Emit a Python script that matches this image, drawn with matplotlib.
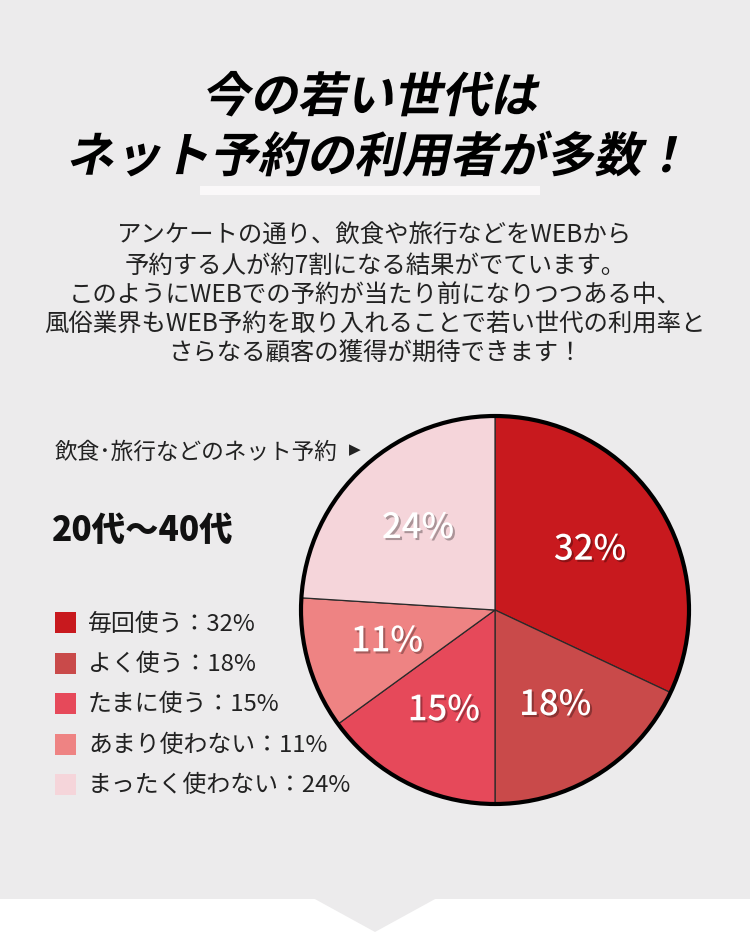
import matplotlib
matplotlib.use("Agg")
import matplotlib.pyplot as plt
from matplotlib.patches import Rectangle, Polygon, Circle, PathPatch
from matplotlib.textpath import TextPath
from matplotlib.font_manager import FontProperties
from matplotlib.transforms import Affine2D
import matplotlib.patheffects as pe

plt.rcParams['font.family'] = ['Noto Sans CJK JP', 'DejaVu Sans']

title_lines = ["今の若い世代は", "ネット予約の利用者が多数！"]
body_lines = [
    "アンケートの通り、飲食や旅行などをWEBから",
    "予約する人が約7割になる結果がでています。",
    "このようにWEBでの予約が当たり前になりつつある中、",
    "風俗業界もWEB予約を取り入れることで若い世代の利用率と",
    "さらなる顧客の獲得が期待できます！",
]
categories = ["毎回使う", "よく使う", "たまに使う", "あまり使わない", "まったく使わない"]
values = [32, 18, 15, 11, 24]
colors = ["#c8191e", "#c94a4a", "#e6495a", "#ee8383", "#f5d5da"]
subtitle = "飲食･旅行などのネット予約"
age_label = "20代〜40代"

bg = "#ecebec"
W, H = 750, 937

fig = plt.figure(figsize=(W / 100, H / 100), dpi=100, facecolor="white")
ax = fig.add_axes([0, 0, 1, 1])
ax.set_xlim(0, W)
ax.set_ylim(H, 0)
ax.axis("off")

# gray panel with arrow notch at bottom
ax.add_patch(Rectangle((0, 0), W, 900, color=bg, lw=0))
ax.add_patch(Polygon([(313, 899), (437, 899), (375, 933)], closed=True, color=bg, lw=0))

# title: bold, slanted via skewed text paths
tfont = FontProperties(family="Noto Sans CJK JP", weight="bold")
for line, y in zip(title_lines, [113, 173]):
    tp = TextPath((0, 0), line, size=48, prop=tfont)
    ext = tp.get_extents()
    tr = (Affine2D().skew_deg(12, 0).scale(1, -1)
          .translate(W / 2 - (ext.x0 + ext.x1) / 2 - 6, y) + ax.transData)
    ax.add_patch(PathPatch(tp, transform=tr, color="black", lw=0))

ax.add_patch(Rectangle((200, 187), 340, 9, color="#faf8f9", lw=0))

for i, line in enumerate(body_lines):
    ax.text(W / 2, 236 + i * 29.5, line, ha="center", va="center",
            fontsize=17.6, color="#222222")

ax.text(55, 452, subtitle, ha="left", va="center", fontsize=16.3, color="#222222")
ax.text(349, 450, "▶", ha="left", va="center", fontsize=11, color="#222222",
        family="DejaVu Sans")
ax.text(52, 530, age_label, ha="left", va="center", fontsize=24,
        fontweight="heavy", color="#111111")

for i, (c, v, col) in enumerate(zip(categories, values, colors)):
    y = 624 + i * 40.5
    ax.add_patch(Rectangle((55, y - 11), 21, 21, color=col, lw=0))
    ax.text(88, y, f"{c}：{v}%", ha="left", va="center", fontsize=17.2,
            color="#222222")

# pie
cx, cy, R = 495, 611, 194
pax = fig.add_axes([(cx - 200) / W, 1 - (cy + 200) / H, 400 / W, 400 / H])
wedges, texts, autotexts = pax.pie(
    values, colors=colors, startangle=90, counterclock=False, radius=R,
    autopct="%d%%", pctdistance=0.58,
    wedgeprops=dict(edgecolor="#2a2a2a", linewidth=0.9),
    textprops=dict(color="white", fontsize=25, fontweight="medium"))
for t in autotexts:
    t.set_path_effects([pe.withSimplePatchShadow(offset=(1.5, -1.5),
                                                 shadow_rgbFace="black", alpha=0.3)])
pax.add_patch(Circle((0, 0), R, fill=False, edgecolor="black", lw=3))
pax.set_xlim(-200, 200)
pax.set_ylim(-200, 200)
pax.set_aspect("equal")
pax.axis("off")

fig.savefig("out.png", dpi=100, facecolor="white")
